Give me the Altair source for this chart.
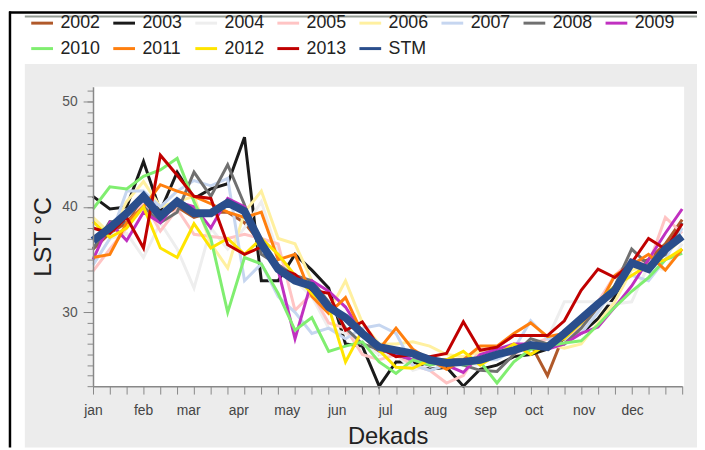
import altair as alt
import pandas as pd

dekads = list(range(1, 37))
month_names = ["jan", "feb", "mar", "apr", "may", "jun", "jul", "aug", "sep", "oct", "nov", "dec"]
month_start_doy = [0, 31, 59, 90, 120, 151, 181, 212, 243, 273, 304, 334]

series_names = ["2002", "2003", "2004", "2005", "2006", "2007", "2008",
                "2009", "2010", "2011", "2012", "2013", "STM"]
series_colors = ["#b0592a", "#1a1a1a", "#eeeeee", "#ffc4c4", "#fff0a0", "#c6d6f0",
                 "#707070", "#c030c0", "#80ee70", "#ff7f0e", "#ffe400", "#c00000", "#2a4e8c"]

v2002 = [36.0, 37.5, 38.5, 40.5, 39.0, 40.0, 39.0, 39.5, 39.5, 38.5, 36.5, 34.5, 33.5, 32.0, 30.5, 29.5, 28.0, 26.0,
         26.5, 26.0, 25.5, 25.5, 25.5, 25.5, 26.0, 26.5, 27.0, 24.0, 28.0, 29.5, 31.0, 32.5, 34.5, 35.0, 36.5, 38.8]
v2003 = [41.0, 39.8, 40.0, 44.3, 39.6, 43.3, 40.8, 41.7, 42.2, 46.6, 33.0, 33.0, 35.5, 34.0, 32.3, 27.0, 26.8, 23.0,
         25.3, 25.3, 24.6, 24.8, 23.0, 24.6, 25.0, 25.8, 26.0, 26.5, 27.5, 28.0, 29.4, 31.5, 34.5, 34.5, 36.0, 37.0]
v2004 = [34.5, 37.0, 37.5, 35.2, 38.5, 36.0, 32.3, 38.0, 36.0, 38.0, 40.5, 35.5, 33.0, 31.5, 28.5, 28.0, 27.0, 26.0,
         26.0, 24.5, 25.0, 25.0, 25.0, 25.0, 26.0, 26.5, 27.0, 27.5, 31.0, 31.0, 31.0, 30.8, 31.0, 34.5, 34.0, 36.5]
v2005 = [33.9, 36.0, 38.0, 40.5, 37.7, 39.8, 37.4, 37.2, 37.0, 37.4, 37.0, 36.5, 30.2, 31.8, 29.0, 28.5, 26.0, 25.5,
         26.0, 25.0, 24.5, 23.3, 24.0, 26.5, 26.0, 26.0, 27.0, 27.5, 27.0, 29.0, 31.0, 33.5, 35.0, 34.5, 39.0, 37.5]
v2006 = [39.0, 37.5, 40.5, 42.4, 40.0, 40.5, 41.0, 36.5, 34.2, 39.5, 41.5, 37.0, 36.5, 33.0, 30.0, 33.0, 29.0, 27.0,
         27.0, 27.2, 26.8, 26.0, 25.8, 26.3, 26.5, 26.5, 27.0, 27.0, 26.6, 27.0, 29.0, 31.0, 34.0, 34.5, 35.5, 37.0]
v2007 = [34.5, 37.0, 41.5, 41.5, 40.0, 41.5, 42.5, 42.0, 42.7, 33.0, 34.6, 31.5, 30.0, 28.0, 28.5, 27.5, 28.5, 28.8,
         28.0, 25.0, 24.5, 25.0, 25.0, 25.5, 25.5, 26.5, 29.2, 27.5, 27.5, 28.0, 30.0, 32.5, 33.5, 33.0, 35.0, 38.0]
v2008 = [36.0, 38.6, 38.5, 40.0, 38.5, 39.5, 43.3, 41.0, 44.0, 40.2, 35.5, 34.5, 33.5, 33.0, 31.0, 28.5, 27.0, 26.5,
         26.0, 25.5, 25.0, 25.5, 25.0, 24.5, 24.4, 26.0, 27.5, 27.0, 27.0, 28.5, 30.5, 32.5, 36.0, 34.5, 35.5, 38.5]
v2009 = [35.0, 38.5, 36.8, 39.5, 38.5, 40.5, 40.0, 38.0, 40.8, 40.0, 36.5, 34.0, 27.5, 33.0, 32.0, 30.5, 28.0, 26.5,
         26.0, 25.5, 25.5, 25.0, 24.3, 26.0, 26.5, 27.0, 27.0, 26.5, 27.0, 28.0, 28.6, 30.5, 32.5, 35.0, 37.5, 39.8]
v2010 = [39.8, 41.9, 41.7, 42.9, 43.5, 44.6, 40.5, 37.0, 30.0, 35.2, 34.6, 31.8, 28.3, 29.5, 26.3, 26.8, 27.2, 25.3,
         24.2, 25.5, 25.0, 25.3, 25.0, 25.3, 23.3, 25.3, 26.5, 26.8, 27.1, 27.3, 28.8, 30.5, 32.0, 33.3, 35.0, 35.6]
v2011 = [35.2, 35.5, 38.5, 40.0, 42.1, 41.5, 41.0, 40.3, 39.5, 39.0, 39.5, 35.0, 35.5, 31.5, 29.9, 31.4, 28.0, 26.5,
         28.5, 26.5, 25.5, 24.6, 25.5, 26.8, 26.8, 28.0, 29.0, 27.7, 28.0, 29.0, 30.5, 33.5, 34.5, 35.5, 34.0, 36.0]
v2012 = [38.6, 37.1, 38.0, 40.0, 36.1, 35.2, 38.4, 36.1, 37.0, 35.5, 37.0, 35.5, 33.5, 31.8, 30.5, 25.3, 28.3, 26.4,
         24.8, 24.7, 25.5, 25.5, 26.3, 25.0, 26.0, 27.0, 26.0, 27.0, 27.5, 29.0, 31.0, 32.5, 33.5, 34.5, 35.0, 36.0]
v2013 = [38.0, 37.5, 39.0, 36.1, 44.9, 43.0, 41.0, 40.8, 36.4, 35.5, 36.2, 34.2, 33.6, 32.1, 31.8, 28.3, 29.1, 26.7,
         25.8, 26.0, 25.8, 26.1, 29.1, 26.4, 26.7, 27.8, 27.8, 27.8, 29.2, 32.1, 34.1, 33.3, 34.7, 37.0, 36.0, 38.4]
stm = [36.8, 38.0, 39.4, 41.0, 39.1, 40.5, 39.4, 39.4, 40.4, 39.6, 36.5, 34.1, 33.0, 32.5, 30.5, 29.5, 28.0, 26.7,
       26.4, 26.1, 25.5, 25.2, 25.3, 25.5, 26.0, 26.4, 26.9, 26.7, 28.0, 29.4, 30.8, 32.1, 34.7, 34.1, 36.0, 37.2]

year_values = [v2002, v2003, v2004, v2005, v2006, v2007, v2008, v2009, v2010, v2011, v2012, v2013]

records = []
for name, vals in zip(series_names[:-1], year_values):
    for d, v in zip(dekads, vals):
        records.append({"series": name, "dekad": d, "lst": v})
df_years = pd.DataFrame(records)
df_stm = pd.DataFrame({"series": "STM", "dekad": dekads, "lst": stm})
one = pd.DataFrame({"k": [0]})

PW, PH = 596, 303
month_pos = [1 + doy * 35 / 365 for doy in month_start_doy]
month_arr = "[" + ",".join("'" + m + "'" for m in month_names) + "]"
label_expr = month_arr + "[round((datum.value - 1) * 365 / 35 / 30.44)]"

x_scale = alt.Scale(domain=[1, 36], nice=False, zero=False)
y_scale = alt.Scale(domain=[23, 51.4], nice=False, zero=False)
color_scale = alt.Scale(domain=series_names, range=series_colors)

legend = alt.Legend(orient="none", legendX=-64, legendY=-77, direction="horizontal", columns=8,
                    symbolType="stroke", symbolSize=484, symbolStrokeWidth=3,
                    labelFontSize=18, labelColor="#222222", labelOffset=6,
                    columnPadding=6, rowPadding=4, padding=0)

x_tick_axis = alt.Axis(orient="bottom", values=dekads, tickSize=8, labels=False, title="",
                       domainColor="#888888", tickColor="#888888", domainWidth=1.5, grid=False, zindex=1)
x_month_axis = alt.Axis(orient="bottom", values=month_pos, labelExpr=label_expr, ticks=False, domain=False,
                        labelFlush=False, labelFontSize=14, labelColor="#444444", labelPadding=18,
                        title="Dekads", titleFontSize=24, titleFontWeight="normal", titleColor="#222222",
                        titlePadding=7, grid=False, zindex=1)
y_major_axis = alt.Axis(orient="left", values=[30, 40, 50], tickSize=10, labelFontSize=14,
                        labelColor="#555555", labelPadding=6, title="LST °C", titleFontSize=25,
                        titleFontWeight="normal", titleColor="#222222", titlePadding=6,
                        domainColor="#888888", tickColor="#888888", domainWidth=1.5, grid=False, zindex=1)
y_minor_axis = alt.Axis(orient="left", values=list(range(23, 52)), tickSize=6, labels=False, domain=False,
                        title="", tickColor="#888888", grid=False, zindex=1)

bg = alt.Chart(one).mark_rect(color="#ececec").encode(
    x=alt.value(-69), x2=alt.value(611), y=alt.value(-23), y2=alt.value(365))
plotbg = alt.Chart(one).mark_rect(color="white").encode(
    x=alt.value(0), x2=alt.value(PW + 2), y=alt.value(0), y2=alt.value(PH))
frame_left = alt.Chart(one).mark_rule(color="black", strokeWidth=2.5).encode(
    x=alt.value(-84), y=alt.value(-76), y2=alt.value(365))
frame_top = alt.Chart(one).mark_rule(color="black", strokeWidth=2.5).encode(
    x=alt.value(-85), x2=alt.value(611), y=alt.value(-75))
gray_line = alt.Chart(one).mark_rule(color="#949b94", strokeWidth=2).encode(
    x=alt.value(-69), x2=alt.value(611), y=alt.value(-71))

years = alt.Chart(df_years).mark_line(strokeWidth=3).encode(
    x=alt.X("dekad:Q", scale=x_scale, axis=x_tick_axis),
    y=alt.Y("lst:Q", scale=y_scale, axis=y_major_axis),
    color=alt.Color("series:N", scale=color_scale, legend=legend, title=None),
)
stm_layer = alt.Chart(df_stm).mark_line(strokeWidth=8).encode(
    x=alt.X("dekad:Q", scale=x_scale, axis=x_month_axis),
    y=alt.Y("lst:Q", scale=y_scale, axis=y_minor_axis),
    color=alt.Color("series:N", scale=color_scale, legend=legend, title=None),
)

chart = alt.layer(bg, plotbg, frame_left, frame_top, gray_line, years, stm_layer).resolve_axis(
    x="independent", y="independent"
).properties(
    width=PW, height=PH,
    autosize=alt.AutoSizeParams(type="none"),
    padding={"left": 86, "top": 77, "right": 15, "bottom": 62},
    background="white",
).configure(font="Liberation Sans").configure_view(strokeWidth=0)

chart.save("out.html", embed_options={"renderer": "svg", "actions": False})
